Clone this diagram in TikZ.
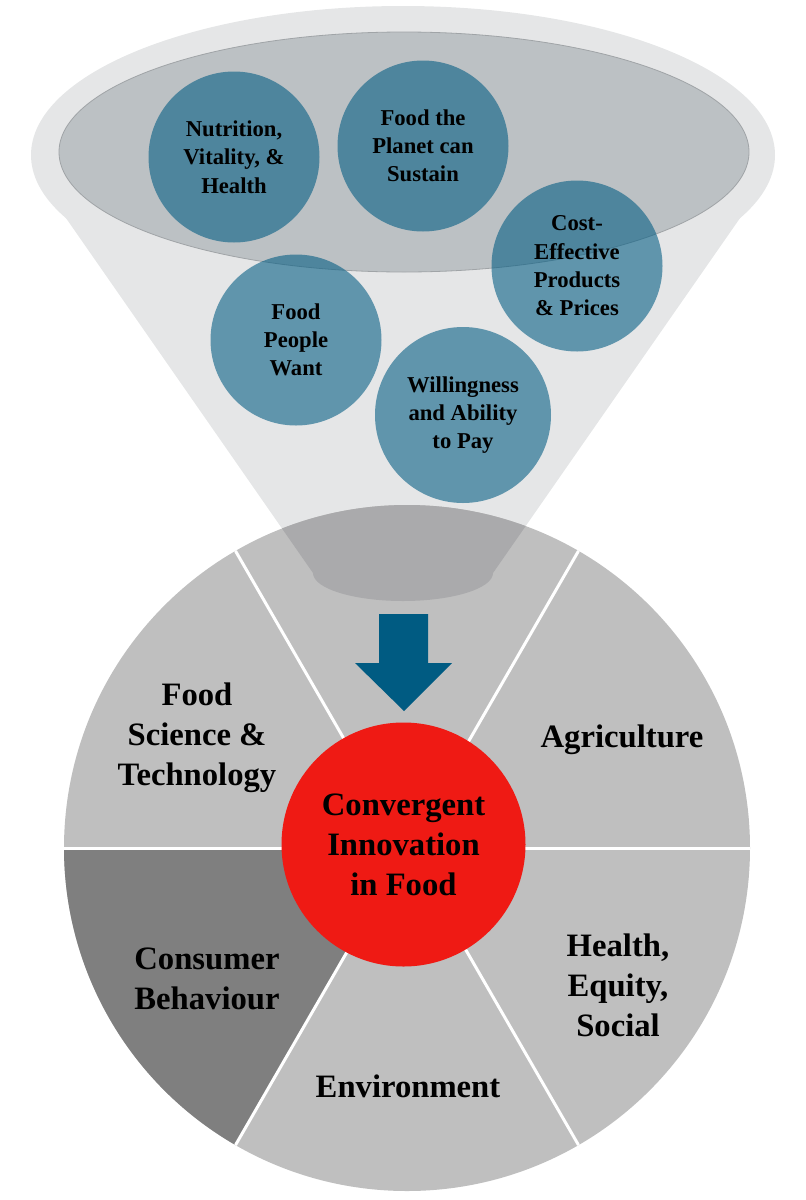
\documentclass[tikz,border=0pt]{standalone}
\usepackage{fontspec}
\setmainfont{Liberation Serif}
\definecolor{funnelgray}{HTML}{E5E6E7}
\definecolor{rimgray}{HTML}{BCC1C4}
\definecolor{overlapgray}{HTML}{AAAAAC}
\definecolor{wheelgray}{HTML}{BFBFBF}
\definecolor{darkwedge}{HTML}{7F7F7F}
\definecolor{corered}{HTML}{EF1A14}
\definecolor{flowblue}{HTML}{005B82}

\begin{document}
\begin{tikzpicture}[x=0.75pt, y=-0.75pt,
   bubble/.style={circle, fill=flowblue, fill opacity=0.58, text opacity=1, inner sep=0pt,
      align=center, font=\fontsize{17}{21.2}\selectfont\bfseries},
   wedgetext/.style={align=center, font=\fontsize{24.5}{30}\selectfont\bfseries},
   divider/.style={white, line width=2.25pt}]

   \useasboundingbox (0,0) rectangle (806,1200);
   \coordinate (hub) at (407,848);

   % funnel
   \fill[funnelgray] (36,175) -- (313,573) arc[start angle=180, end angle=0, x radius=90, y radius=28] -- (770,175) -- cycle;
   \fill[funnelgray] (403,155) ellipse[x radius=372, y radius=149];

   % wheel
   \fill[wheelgray] (hub) circle[radius=343];
   \fill[darkwedge] (hub) -- ++(180:343) arc[start angle=180, end angle=120, radius=343] -- cycle;
   \foreach \a in {0,60,120}
      \draw[divider] (hub) ++(\a:343) -- ++(\a+180:686);

   \begin{scope}
      \clip (hub) circle[radius=343];
      \fill[overlapgray] (36,175) -- (313,573) arc[start angle=180, end angle=0, x radius=90, y radius=28] -- (770,175) -- cycle;
   \end{scope}

   \filldraw[fill=rimgray, draw=rimgray!85!black, line width=0.6pt] (404,152) ellipse[x radius=345, y radius=120];

   \foreach \n/\x/\y/\s/\t in {nutrition/234/157/128.25/{Nutrition,\\ Vitality, \&\\ Health},
                               planet/423/146/128.25/{Food the\\ Planet can\\ Sustain},
                               cost/577/266/128.25/{Cost-\\ Effective\\ Products\\ \& Prices},
                               want/296/340/128.25/{Food\\ People\\ Want},
                               pay/463/415/132/{Willingness\\ and Ability\\ to Pay}}
      \node[bubble, minimum size=\s pt] (\n) at (\x,\y) {\t};

   % arrow into the core
   \fill[flowblue] (379,614) -- (428,614) -- (428,663) -- (452,663) -- (404,711) -- (355,663) -- (379,663) -- cycle;

   \node[circle, fill=corered, minimum size=183pt, inner sep=0pt, wedgetext] (core) at (403.5,844.5) {Convergent\\ Innovation\\ in Food};

   \foreach \n/\x/\y/\t in {science/197/738/{Food\\ Science \&\\ Technology},
                            agri/622/740/Agriculture,
                            consumer/207/979/{Consumer\\ Behaviour},
                            health/618/985/{Health,\\ Equity,\\ Social},
                            env/408/1086/Environment}
      \node[wedgetext] (\n) at (\x,\y) {\t};

\end{tikzpicture}
\end{document}
